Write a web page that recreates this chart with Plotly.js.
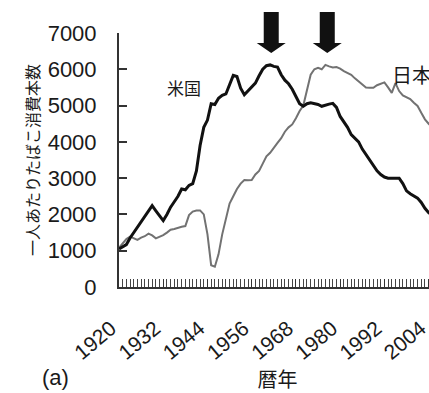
<!DOCTYPE html>
<html>
<head>
<meta charset="utf-8">
<script src="https://cdn.plot.ly/plotly-3.0.1.min.js"></script>
<style>
  html, body { margin: 0; padding: 0; overflow: hidden; background: #fff; }
  #chart { width: 440px; height: 393px; }
</style>
</head>
<body>
<div id="chart"></div>
<script>
// Per-capita cigarette consumption, 1920-2005
const years = [];
for (let y = 1920; y <= 2005; y++) years.push(y);

const usa = [
  1050, 1100, 1170, 1350, 1500, 1650, 1800, 1950, 2100, 2240,
  2100, 1950, 1830, 2000, 2200, 2350, 2500, 2700, 2680, 2800,
  2850, 3200, 3900, 4400, 4600, 5050, 5030, 5200, 5280, 5320,
  5550, 5830, 5800, 5480, 5300, 5400, 5500, 5620, 5820, 6000,
  6100, 6120, 6080, 6060, 5850, 5700, 5600, 5450, 5250, 5050,
  4980, 5050, 5075, 5050, 5030, 4980, 5020, 5040, 5060, 4950,
  4700, 4550, 4400, 4200, 4100, 4000, 3800, 3650, 3480, 3330,
  3200, 3100, 3030, 3000, 3000, 2990, 3000, 2850, 2650, 2570,
  2500, 2450, 2330, 2170, 2050, 1980
];

const japan = [
  1080, 1200, 1320, 1390, 1340, 1300, 1360, 1400, 1470, 1420,
  1340, 1380, 1430, 1500, 1580, 1600, 1640, 1660, 1680, 1980,
  2080, 2110, 2110, 2000, 1450, 600, 560, 900, 1450, 1900,
  2300, 2500, 2700, 2850, 2950, 2940, 2950, 3100, 3200, 3400,
  3600, 3700, 3850, 3970, 4100, 4280, 4400, 4480, 4650, 4850,
  5000, 5450, 5850, 6000, 6040, 6000, 6120, 6080, 6050, 6060,
  6020, 5950, 5900, 5850, 5750, 5670, 5580, 5500, 5490, 5490,
  5560, 5600, 5640, 5500, 5350, 5620, 5400, 5280, 5230, 5180,
  5080, 4990, 4800, 4620, 4500, 4400
];

const labelYears = [1920, 1932, 1944, 1956, 1968, 1980, 1992, 2004];
const peakYears = [1961.3, 1976.5];   // downward arrows above the two peaks

const X0 = 1920, X1 = 2006;
const font = "Liberation Sans, Arial, 'Noto Sans CJK JP', sans-serif";
const jfont = "'Noto Sans CJK JP', sans-serif";

// block arrows drawn in paper coordinates
function arrowPath(year) {
  const c = (year - X0) / (X1 - X0);
  const sw = 7.5 / 317, hw = 14.5 / 317;
  const top = 1.083, neck = 0.961, tip = 0.921;
  return `M ${c - sw},${top} L ${c + sw},${top} L ${c + sw},${neck} L ${c + hw},${neck} ` +
         `L ${c},${tip} L ${c - hw},${neck} L ${c - sw},${neck} Z`;
}

const traces = [
  { x: years, y: japan, mode: 'lines', name: '日本',
    line: { color: '#727272', width: 2 }, hoverinfo: 'x+y' },
  { x: years, y: usa, mode: 'lines', name: '米国',
    line: { color: '#111', width: 3 }, hoverinfo: 'x+y' }
];

const layout = {
  width: 440, height: 393,
  margin: { l: 119, r: 4, t: 33, b: 106 },
  paper_bgcolor: '#fff', plot_bgcolor: '#fff',
  showlegend: false,
  font: { family: font, size: 22, color: '#1a1a1a' },
  xaxis: {
    range: [X0, X1],
    tickmode: 'array',
    tickvals: labelYears,
    ticktext: labelYears.map(String),
    tickangle: -40,
    ticks: 'inside', ticklen: 8, tickwidth: 1, tickcolor: '#333',
    minor: { dtick: 1, tick0: 1920, ticks: 'inside', ticklen: 8, tickwidth: 1, tickcolor: '#444', showgrid: false },
    showline: true, linecolor: '#333', linewidth: 2,
    showgrid: false, zeroline: false,
    ticklabelstandoff: 19,
    ticklabelshift: -8,
    tickfont: { family: font, size: 21, color: '#1a1a1a' },
    title: { text: '暦年', font: { family: jfont, size: 20, color: '#1a1a1a' }, standoff: 12 }
  },
  yaxis: {
    range: [0, 7000],
    tickvals: [0, 1000, 2000, 3000, 4000, 5000, 6000, 7000],
    ticks: 'inside', ticklen: 8, tickwidth: 2, tickcolor: '#333',
    showline: true, linecolor: '#333', linewidth: 2,
    showgrid: false, zeroline: false,
    ticklabelstandoff: 16,
    tickfont: { family: font, size: 22, color: '#1a1a1a' },
    title: { text: '一人あたりたばこ消費本数', font: { family: jfont, size: 16, color: '#1a1a1a' }, standoff: 4 }
  },
  shapes: peakYears.map(yr => ({
    type: 'path', xref: 'paper', yref: 'paper', path: arrowPath(yr),
    fillcolor: '#111', line: { width: 0 }
  })),
  annotations: [
    { x: 1937.5, y: 5510, xref: 'x', yref: 'y', text: '米国', showarrow: false,
      font: { family: jfont, size: 17, color: '#1a1a1a' } },
    { x: 1993.6, y: 5870, xref: 'x', yref: 'y', text: '日本', showarrow: false, xanchor: 'left',
      font: { family: jfont, size: 20, color: '#1a1a1a' } },
    { x: -0.25, y: -0.413, xref: 'paper', yref: 'paper', text: '(a)', showarrow: false, xanchor: 'left',
      font: { family: font, size: 22, color: '#1a1a1a' } }
  ]
};

Plotly.newPlot('chart', traces, layout, { displayModeBar: false, staticPlot: true });
</script>
</body>
</html>
